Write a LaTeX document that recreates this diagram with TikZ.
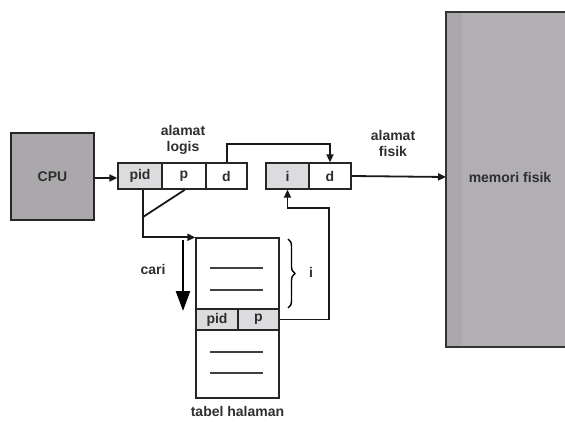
\documentclass[tikz,border=0pt]{standalone}
\usepackage{fontspec}
\setmainfont{Liberation Sans}
\usetikzlibrary{arrows.meta,decorations.pathreplacing}
\definecolor{cpugray}{HTML}{ABA8AC}
\definecolor{memgray}{HTML}{B2AFB4}
\definecolor{memstrip}{HTML}{AAA8AC}
\definecolor{cellgray}{HTML}{DCDBDD}
\definecolor{txt}{HTML}{2E2E2E}
\tikzset{
  cell/.style={draw=black!85, line width=1.3pt, minimum height=26pt, inner sep=0pt, text=txt,
    font=\fontsize{14}{15}\selectfont\bfseries},
  lbl/.style={text=txt, align=center, inner sep=0pt, font=\fontsize{14}{16}\selectfont\bfseries},
  conn/.style={line width=1.8pt, draw=black!90},
  tip/.style={-{Triangle[length=8pt,width=7pt]}},
  rowline/.style={line width=1.3pt, draw=black!75}
}
\begin{document}
\begin{tikzpicture}[x=1pt,y=-1pt]
\useasboundingbox (0,0) rectangle (565,422);
% CPU
\node[cell, fill=cpugray, minimum width=83pt, minimum height=87pt] (cpu) at (52.5,176.5) {CPU};
% logical address
\node[cell, fill=cellgray, minimum width=44pt] (pid) at (140,176) {pid};
\node[cell, minimum width=44pt] (p) at (184,176) {p};
\node[cell, minimum width=41pt] (d1) at (226.5,176) {d};
% physical address
\node[cell, fill=cellgray, minimum width=43pt] (i) at (287.5,176) {i};
\node[cell, minimum width=42pt] (d2) at (330,176) {d};
% memory
\begin{scope}
\clip (0,0) rectangle (565,422);
\fill[memgray] (446,12) rectangle (570,347);
\fill[memstrip] (446,12) rectangle (462,347);
\draw[line width=1.5pt, draw=black!80] (570,12) -- (446,12) -- (446,347) -- (570,347);
\end{scope}
\node[lbl] (mem) at (510,177) {memori fisik};
% page table
\node[cell, minimum width=83pt, minimum height=71pt] (ttop) at (237.5,273.5) {};
\node[cell, fill=cellgray, minimum width=42pt, minimum height=21pt] (tpid) at (217,319.5) {pid};
\node[cell, fill=cellgray, minimum width=41pt, minimum height=21pt] (tp) at (258.5,319.5) {p};
\node[cell, minimum width=83pt, minimum height=68pt] (tbot) at (237.5,364) {};
\draw[rowline] (210,268) -- (263,268);
\draw[rowline] (210,290) -- (263,290);
\draw[rowline] (210,352) -- (263,352);
\draw[rowline] (210,373) -- (263,373);
% labels
\node[lbl] (ll) at (183,140) {alamat\\logis};
\node[lbl] (lf) at (393,143) {alamat\\fisik};
\node[lbl] (cari) at (153,269) {cari};
\node[lbl] (th) at (237.5,411) {tabel halaman};
\node[lbl] (ilbl) at (311,272) {i};
% connectors
\draw[conn, tip] (cpu.east |- 0,178) -- (pid.west |- 0,178);
\coordinate (up1) at (227,144);
\draw[conn, tip] (d1.north -| up1) -- (up1) -| (d2.north);
\draw[conn, tip] (d2.east) -- (mem.west -| 446,0);
\coordinate (v1) at (143,217);
\draw[conn] (pid.south -| v1) -- (v1);
\draw[conn, tip] (v1) |- (ttop.north west);
\draw[conn] (p.south) ++(1,0) -- (v1);
\coordinate (r1) at (329,208);
\draw[conn, tip] (tp.east) -| (r1) -| (i.south);
% cari arrow
\coordinate (c1) at (183,240);
\coordinate (c2) at (183,311);
\draw[line width=2.5pt, -{Triangle[length=20pt,width=14pt]}] (c1) -- (c2);
% brace
\draw[line width=1.4pt, decorate, decoration={brace, amplitude=7pt}] (288,239) -- (288,308);
\end{tikzpicture}
\end{document}
